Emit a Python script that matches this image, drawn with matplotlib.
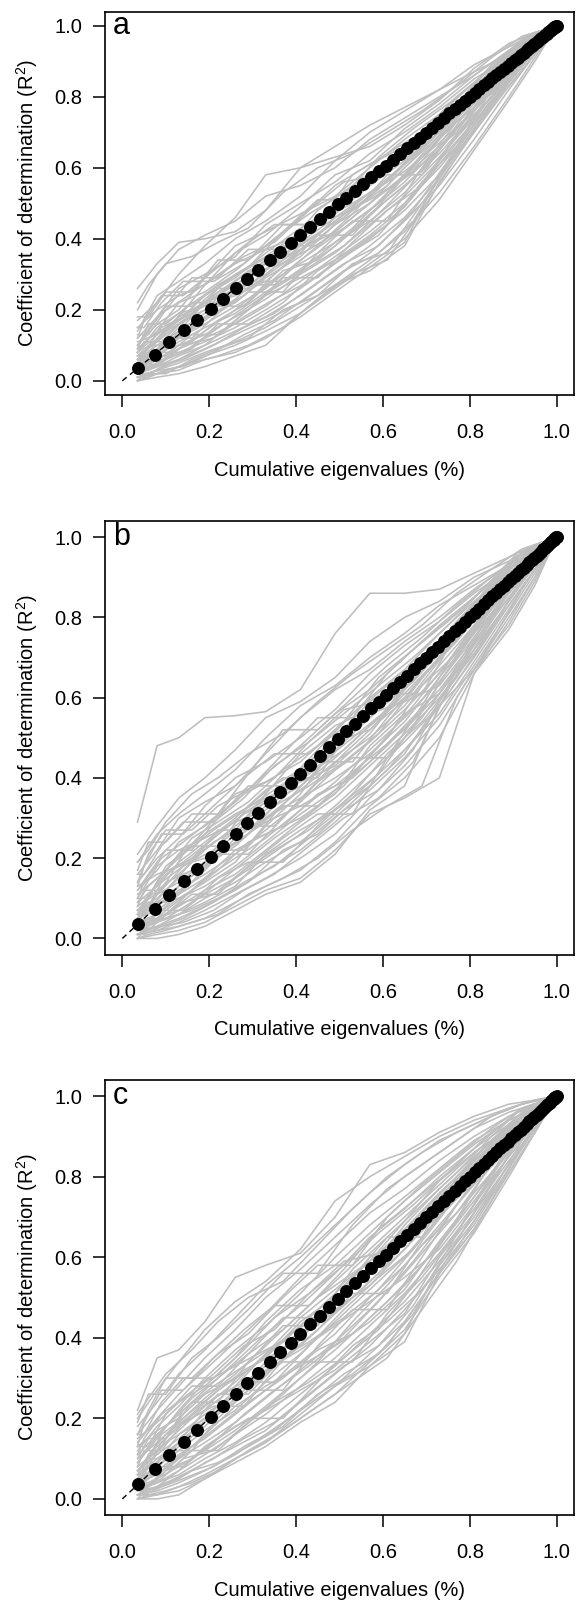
import matplotlib
matplotlib.use("Agg")
import matplotlib.pyplot as plt

plt.rcParams['font.family'] = ['Liberation Sans', 'DejaVu Sans']
plt.rcParams['mathtext.fontset'] = 'custom'
plt.rcParams['mathtext.rm'] = 'Liberation Sans'
plt.rcParams['mathtext.it'] = 'Liberation Sans'

# ---------------- data ----------------
panel_labels = ["a", "b", "c"]
x_label = "Cumulative eigenvalues (%)"
y_label = "Coefficient of determination (R$^{2}$)"
tick_values = [0.0, 0.2, 0.4, 0.6, 0.8, 1.0]
tick_labels = ["0.0", "0.2", "0.4", "0.6", "0.8", "1.0"]

# cumulative eigenvalues (black points; observed R2 equals cumulative eigenvalue)
cum_eig = [0.037, 0.074, 0.108, 0.142, 0.172, 0.203, 0.231, 0.261, 0.288, 0.313,
           0.339, 0.364, 0.388, 0.410, 0.433, 0.455, 0.476, 0.497, 0.516, 0.535,
           0.554, 0.573, 0.590, 0.606, 0.623, 0.640, 0.655, 0.671, 0.685, 0.699,
           0.713, 0.727, 0.740, 0.753, 0.765, 0.777, 0.789, 0.800, 0.811, 0.822,
           0.832, 0.842, 0.852, 0.861, 0.870, 0.879, 0.887, 0.895, 0.903, 0.910,
           0.917, 0.924, 0.931, 0.937, 0.943, 0.949, 0.954, 0.959, 0.964, 0.969,
           0.973, 0.977, 0.981, 0.984, 0.987, 0.990, 0.993, 0.995, 0.997, 0.999,
           1.000]
obs_r2 = list(cum_eig)

# 1:1 reference line
ref_line = [0.0, 1.0]

# x positions at which the grey (permuted) curves were read
knots = [0.035, 0.08, 0.13, 0.19, 0.26, 0.33, 0.41, 0.49, 0.57, 0.65, 0.73, 0.81, 0.89, 0.95, 1.0]
knots2 = [0.035, 0.06, 0.10, 0.16, 0.22, 0.29, 0.37, 0.45, 0.53, 0.61, 0.69, 0.77, 0.85, 0.92, 1.0]
knots3 = [0.035, 0.05, 0.09, 0.14, 0.21, 0.28, 0.35, 0.43, 0.51, 0.59, 0.67, 0.75, 0.83, 0.91, 1.0]

curves_a = [
    [0.26, 0.33, 0.39, 0.40, 0.42, 0.48, 0.60, 0.66, 0.72, 0.77, 0.82, 0.89, 0.94, 0.98, 1],
    [0.20, 0.30, 0.37, 0.41, 0.45, 0.52, 0.55, 0.60, 0.68, 0.74, 0.80, 0.86, 0.93, 0.97, 1],
    [0.17, 0.22, 0.30, 0.38, 0.46, 0.58, 0.60, 0.63, 0.66, 0.72, 0.79, 0.88, 0.95, 0.98, 1],
    [0.14, 0.24, 0.28, 0.33, 0.40, 0.45, 0.52, 0.62, 0.70, 0.76, 0.82, 0.87, 0.92, 0.97, 1],
    [0.12, 0.18, 0.26, 0.30, 0.35, 0.44, 0.50, 0.56, 0.64, 0.70, 0.77, 0.85, 0.91, 0.96, 1],
    [0.10, 0.16, 0.20, 0.29, 0.38, 0.42, 0.47, 0.52, 0.60, 0.68, 0.75, 0.84, 0.92, 0.97, 1],
    [0.09, 0.14, 0.22, 0.25, 0.31, 0.38, 0.46, 0.55, 0.61, 0.66, 0.74, 0.82, 0.90, 0.96, 1],
    [0.08, 0.13, 0.17, 0.24, 0.29, 0.36, 0.43, 0.49, 0.57, 0.65, 0.72, 0.80, 0.89, 0.95, 1],
    [0.07, 0.11, 0.16, 0.20, 0.28, 0.34, 0.40, 0.47, 0.55, 0.62, 0.73, 0.81, 0.88, 0.95, 1],
    [0.06, 0.10, 0.14, 0.19, 0.25, 0.30, 0.38, 0.45, 0.52, 0.61, 0.70, 0.79, 0.87, 0.94, 1],
    [0.05, 0.09, 0.13, 0.18, 0.22, 0.29, 0.35, 0.44, 0.50, 0.58, 0.68, 0.78, 0.88, 0.95, 1],
    [0.05, 0.08, 0.12, 0.16, 0.21, 0.26, 0.34, 0.41, 0.48, 0.56, 0.66, 0.76, 0.86, 0.94, 1],
    [0.04, 0.07, 0.11, 0.15, 0.19, 0.25, 0.31, 0.38, 0.47, 0.55, 0.64, 0.75, 0.85, 0.93, 1],
    [0.04, 0.06, 0.10, 0.13, 0.18, 0.23, 0.30, 0.36, 0.44, 0.52, 0.62, 0.73, 0.84, 0.93, 1],
    [0.03, 0.06, 0.09, 0.12, 0.16, 0.21, 0.28, 0.35, 0.42, 0.50, 0.60, 0.72, 0.85, 0.94, 1],
    [0.03, 0.05, 0.08, 0.11, 0.15, 0.20, 0.26, 0.33, 0.40, 0.48, 0.58, 0.70, 0.83, 0.92, 1],
    [0.02, 0.04, 0.07, 0.10, 0.14, 0.18, 0.24, 0.31, 0.38, 0.46, 0.57, 0.71, 0.84, 0.93, 1],
    [0.02, 0.04, 0.06, 0.09, 0.13, 0.17, 0.22, 0.29, 0.36, 0.45, 0.55, 0.68, 0.82, 0.92, 1],
    [0.01, 0.03, 0.05, 0.08, 0.11, 0.15, 0.21, 0.27, 0.34, 0.42, 0.53, 0.66, 0.80, 0.91, 1],
    [0.01, 0.02, 0.04, 0.07, 0.10, 0.14, 0.19, 0.26, 0.33, 0.40, 0.51, 0.65, 0.79, 0.90, 1],
    [0.00, 0.02, 0.03, 0.06, 0.08, 0.12, 0.18, 0.25, 0.32, 0.39, 0.58, 0.72, 0.85, 0.94, 1],
    [0.00, 0.01, 0.02, 0.04, 0.07, 0.10, 0.19, 0.27, 0.31, 0.38, 0.56, 0.70, 0.84, 0.93, 1],
    [0.11, 0.13, 0.18, 0.27, 0.33, 0.37, 0.41, 0.50, 0.58, 0.63, 0.71, 0.79, 0.87, 0.95, 1],
    [0.15, 0.20, 0.24, 0.27, 0.36, 0.41, 0.49, 0.58, 0.62, 0.71, 0.78, 0.86, 0.93, 0.97, 1],
    [0.06, 0.12, 0.18, 0.22, 0.27, 0.33, 0.37, 0.42, 0.50, 0.60, 0.69, 0.77, 0.86, 0.94, 1],
    [0.02, 0.05, 0.09, 0.14, 0.20, 0.27, 0.33, 0.39, 0.45, 0.53, 0.63, 0.74, 0.86, 0.94, 1],
    [0.08, 0.15, 0.19, 0.21, 0.24, 0.28, 0.36, 0.46, 0.53, 0.59, 0.67, 0.76, 0.87, 0.95, 1],
    [0.03, 0.07, 0.12, 0.17, 0.23, 0.31, 0.39, 0.46, 0.51, 0.57, 0.65, 0.77, 0.88, 0.95, 1],
    [0.01, 0.03, 0.06, 0.10, 0.17, 0.24, 0.29, 0.34, 0.41, 0.49, 0.61, 0.73, 0.83, 0.92, 1],
    [0.04, 0.09, 0.15, 0.23, 0.30, 0.35, 0.42, 0.48, 0.56, 0.64, 0.71, 0.80, 0.89, 0.96, 1],
]
curves2_a = [
    [0.18, 0.18, 0.25, 0.25, 0.34, 0.34, 0.44, 0.44, 0.58, 0.64, 0.70, 0.80, 0.88, 0.95, 1],
    [0.09, 0.16, 0.16, 0.22, 0.22, 0.30, 0.38, 0.38, 0.47, 0.58, 0.58, 0.72, 0.85, 0.95, 1],
    [0.05, 0.05, 0.12, 0.12, 0.19, 0.25, 0.25, 0.36, 0.45, 0.45, 0.60, 0.73, 0.81, 0.93, 1],
    [0.02, 0.07, 0.07, 0.13, 0.13, 0.20, 0.29, 0.29, 0.39, 0.48, 0.55, 0.69, 0.80, 0.92, 1],
    [0.13, 0.13, 0.20, 0.29, 0.29, 0.37, 0.37, 0.48, 0.55, 0.62, 0.69, 0.77, 0.87, 0.96, 1],
    [0.07, 0.07, 0.10, 0.18, 0.26, 0.26, 0.33, 0.41, 0.41, 0.52, 0.63, 0.74, 0.83, 0.94, 1],
    [0.03, 0.03, 0.06, 0.09, 0.16, 0.16, 0.22, 0.31, 0.37, 0.44, 0.56, 0.66, 0.82, 0.93, 1],
    [0.01, 0.02, 0.02, 0.06, 0.09, 0.12, 0.20, 0.24, 0.33, 0.36, 0.50, 0.64, 0.78, 0.90, 1],
    [0.10, 0.14, 0.21, 0.21, 0.27, 0.32, 0.42, 0.51, 0.51, 0.60, 0.67, 0.76, 0.86, 0.95, 1],
    [0.04, 0.10, 0.10, 0.15, 0.21, 0.28, 0.28, 0.35, 0.43, 0.53, 0.62, 0.70, 0.84, 0.93, 1],
    [0.22, 0.27, 0.33, 0.35, 0.39, 0.43, 0.53, 0.60, 0.64, 0.70, 0.76, 0.83, 0.91, 0.97, 1],
    [0.06, 0.09, 0.14, 0.20, 0.24, 0.31, 0.35, 0.45, 0.50, 0.56, 0.66, 0.78, 0.89, 0.96, 1],
    [0.02, 0.04, 0.09, 0.11, 0.17, 0.22, 0.31, 0.34, 0.42, 0.51, 0.59, 0.71, 0.83, 0.93, 1],
    [0.00, 0.01, 0.03, 0.05, 0.07, 0.10, 0.15, 0.23, 0.30, 0.34, 0.48, 0.63, 0.78, 0.90, 1],
    [0.08, 0.12, 0.15, 0.19, 0.25, 0.29, 0.34, 0.40, 0.48, 0.55, 0.65, 0.75, 0.85, 0.94, 1],
]
curves3_a = [
    [0.15, 0.15, 0.22, 0.28, 0.28, 0.33, 0.40, 0.47, 0.53, 0.60, 0.68, 0.76, 0.85, 0.95, 1],
    [0.08, 0.11, 0.11, 0.17, 0.23, 0.27, 0.27, 0.36, 0.44, 0.52, 0.59, 0.71, 0.82, 0.93, 1],
    [0.04, 0.04, 0.08, 0.08, 0.14, 0.20, 0.26, 0.32, 0.38, 0.47, 0.57, 0.68, 0.80, 0.92, 1],
    [0.12, 0.17, 0.24, 0.24, 0.31, 0.38, 0.44, 0.44, 0.52, 0.63, 0.71, 0.78, 0.86, 0.95, 1],
    [0.06, 0.06, 0.13, 0.17, 0.21, 0.21, 0.30, 0.39, 0.47, 0.55, 0.63, 0.73, 0.84, 0.94, 1],
    [0.02, 0.03, 0.05, 0.10, 0.12, 0.18, 0.23, 0.28, 0.35, 0.41, 0.52, 0.66, 0.79, 0.91, 1],
    [0.10, 0.13, 0.19, 0.23, 0.29, 0.35, 0.39, 0.48, 0.56, 0.58, 0.65, 0.74, 0.84, 0.94, 1],
    [0.03, 0.07, 0.09, 0.14, 0.19, 0.24, 0.32, 0.37, 0.43, 0.50, 0.61, 0.72, 0.83, 0.93, 1],
    [0.01, 0.01, 0.04, 0.06, 0.10, 0.15, 0.19, 0.26, 0.33, 0.38, 0.48, 0.62, 0.77, 0.90, 1],
    [0.07, 0.09, 0.12, 0.20, 0.26, 0.31, 0.36, 0.42, 0.49, 0.57, 0.66, 0.75, 0.85, 0.94, 1],
    [0.05, 0.08, 0.15, 0.18, 0.24, 0.30, 0.34, 0.40, 0.46, 0.54, 0.64, 0.74, 0.86, 0.95, 1],
    [0.00, 0.02, 0.03, 0.04, 0.08, 0.13, 0.17, 0.24, 0.31, 0.36, 0.45, 0.61, 0.76, 0.89, 1],
]

curves_b = [
    [0.29, 0.48, 0.50, 0.55, 0.555, 0.565, 0.62, 0.76, 0.86, 0.86, 0.87, 0.91, 0.95, 0.98, 1],
    [0.21, 0.28, 0.35, 0.40, 0.47, 0.55, 0.59, 0.65, 0.74, 0.80, 0.84, 0.90, 0.94, 0.98, 1],
    [0.19, 0.26, 0.31, 0.36, 0.42, 0.50, 0.58, 0.63, 0.70, 0.76, 0.83, 0.88, 0.93, 0.97, 1],
    [0.16, 0.22, 0.30, 0.34, 0.38, 0.46, 0.55, 0.62, 0.67, 0.74, 0.80, 0.87, 0.93, 0.97, 1],
    [0.14, 0.20, 0.25, 0.33, 0.40, 0.44, 0.50, 0.57, 0.66, 0.73, 0.79, 0.86, 0.92, 0.97, 1],
    [0.12, 0.17, 0.24, 0.28, 0.34, 0.41, 0.48, 0.56, 0.62, 0.70, 0.78, 0.85, 0.92, 0.96, 1],
    [0.11, 0.15, 0.20, 0.27, 0.36, 0.39, 0.44, 0.52, 0.60, 0.67, 0.76, 0.84, 0.91, 0.96, 1],
    [0.09, 0.13, 0.19, 0.24, 0.30, 0.37, 0.42, 0.50, 0.59, 0.65, 0.74, 0.82, 0.90, 0.96, 1],
    [0.08, 0.12, 0.16, 0.22, 0.28, 0.34, 0.41, 0.47, 0.55, 0.63, 0.72, 0.81, 0.89, 0.95, 1],
    [0.07, 0.10, 0.15, 0.19, 0.26, 0.33, 0.38, 0.45, 0.53, 0.60, 0.70, 0.79, 0.88, 0.95, 1],
    [0.06, 0.09, 0.13, 0.18, 0.23, 0.30, 0.37, 0.44, 0.50, 0.58, 0.68, 0.78, 0.87, 0.94, 1],
    [0.05, 0.08, 0.12, 0.16, 0.21, 0.27, 0.34, 0.42, 0.49, 0.57, 0.66, 0.77, 0.87, 0.94, 1],
    [0.05, 0.07, 0.11, 0.15, 0.20, 0.25, 0.32, 0.39, 0.47, 0.55, 0.64, 0.75, 0.86, 0.93, 1],
    [0.04, 0.06, 0.10, 0.13, 0.18, 0.24, 0.31, 0.37, 0.44, 0.53, 0.62, 0.73, 0.85, 0.93, 1],
    [0.03, 0.05, 0.08, 0.12, 0.16, 0.22, 0.29, 0.35, 0.43, 0.51, 0.60, 0.71, 0.84, 0.93, 1],
    [0.03, 0.05, 0.07, 0.11, 0.15, 0.20, 0.26, 0.33, 0.41, 0.49, 0.58, 0.70, 0.83, 0.92, 1],
    [0.02, 0.04, 0.06, 0.10, 0.14, 0.19, 0.24, 0.31, 0.39, 0.47, 0.56, 0.69, 0.82, 0.92, 1],
    [0.02, 0.03, 0.05, 0.08, 0.12, 0.17, 0.22, 0.29, 0.37, 0.45, 0.55, 0.68, 0.81, 0.91, 1],
    [0.01, 0.02, 0.04, 0.07, 0.11, 0.15, 0.20, 0.26, 0.35, 0.43, 0.53, 0.67, 0.80, 0.90, 1],
    [0.01, 0.02, 0.03, 0.05, 0.09, 0.13, 0.17, 0.24, 0.33, 0.40, 0.50, 0.66, 0.79, 0.90, 1],
    [0.00, 0.01, 0.02, 0.04, 0.08, 0.12, 0.15, 0.22, 0.31, 0.35, 0.40, 0.66, 0.77, 0.88, 1],
    [0.00, 0.00, 0.01, 0.03, 0.07, 0.11, 0.14, 0.21, 0.32, 0.38, 0.58, 0.67, 0.78, 0.89, 1],
    [0.10, 0.18, 0.22, 0.25, 0.29, 0.32, 0.40, 0.49, 0.52, 0.61, 0.70, 0.80, 0.88, 0.95, 1],
    [0.13, 0.16, 0.18, 0.20, 0.27, 0.36, 0.46, 0.53, 0.57, 0.62, 0.73, 0.83, 0.91, 0.96, 1],
    [0.06, 0.14, 0.21, 0.26, 0.31, 0.35, 0.39, 0.43, 0.51, 0.62, 0.71, 0.80, 0.89, 0.95, 1],
    [0.02, 0.06, 0.11, 0.17, 0.25, 0.30, 0.35, 0.40, 0.46, 0.54, 0.65, 0.76, 0.86, 0.94, 1],
    [0.07, 0.09, 0.10, 0.14, 0.19, 0.28, 0.36, 0.48, 0.56, 0.59, 0.63, 0.74, 0.85, 0.93, 1],
    [0.03, 0.04, 0.09, 0.15, 0.22, 0.26, 0.30, 0.36, 0.48, 0.56, 0.61, 0.72, 0.84, 0.93, 1],
    [0.01, 0.03, 0.06, 0.09, 0.13, 0.21, 0.27, 0.32, 0.38, 0.46, 0.59, 0.72, 0.83, 0.92, 1],
    [0.04, 0.11, 0.14, 0.19, 0.24, 0.29, 0.33, 0.38, 0.45, 0.52, 0.61, 0.75, 0.87, 0.95, 1],
]
curves2_b = [
    [0.17, 0.24, 0.24, 0.31, 0.31, 0.41, 0.52, 0.52, 0.60, 0.68, 0.75, 0.83, 0.90, 0.96, 1],
    [0.10, 0.10, 0.18, 0.23, 0.23, 0.33, 0.40, 0.40, 0.53, 0.61, 0.61, 0.76, 0.87, 0.95, 1],
    [0.05, 0.09, 0.09, 0.14, 0.21, 0.21, 0.30, 0.39, 0.45, 0.45, 0.58, 0.72, 0.83, 0.93, 1],
    [0.02, 0.02, 0.06, 0.11, 0.11, 0.18, 0.25, 0.31, 0.31, 0.45, 0.55, 0.67, 0.80, 0.92, 1],
    [0.12, 0.16, 0.22, 0.22, 0.30, 0.38, 0.38, 0.47, 0.56, 0.63, 0.70, 0.78, 0.88, 0.96, 1],
    [0.07, 0.07, 0.12, 0.19, 0.27, 0.27, 0.35, 0.44, 0.44, 0.55, 0.65, 0.74, 0.85, 0.94, 1],
    [0.03, 0.05, 0.05, 0.09, 0.15, 0.19, 0.19, 0.28, 0.36, 0.46, 0.54, 0.65, 0.79, 0.92, 1],
    [0.00, 0.01, 0.02, 0.04, 0.06, 0.11, 0.15, 0.20, 0.27, 0.33, 0.38, 0.60, 0.74, 0.87, 1],
    [0.14, 0.21, 0.27, 0.27, 0.33, 0.37, 0.46, 0.55, 0.55, 0.66, 0.74, 0.81, 0.89, 0.96, 1],
    [0.04, 0.08, 0.14, 0.17, 0.21, 0.26, 0.33, 0.33, 0.41, 0.50, 0.63, 0.71, 0.82, 0.93, 1],
    [0.19, 0.22, 0.29, 0.36, 0.40, 0.46, 0.51, 0.59, 0.66, 0.72, 0.78, 0.86, 0.92, 0.97, 1],
    [0.06, 0.11, 0.16, 0.20, 0.26, 0.32, 0.37, 0.43, 0.50, 0.57, 0.67, 0.77, 0.88, 0.95, 1],
    [0.01, 0.03, 0.07, 0.12, 0.17, 0.24, 0.28, 0.36, 0.40, 0.48, 0.57, 0.70, 0.82, 0.92, 1],
    [0.02, 0.04, 0.05, 0.07, 0.10, 0.14, 0.22, 0.26, 0.34, 0.42, 0.52, 0.64, 0.77, 0.90, 1],
    [0.09, 0.13, 0.17, 0.25, 0.29, 0.34, 0.42, 0.48, 0.54, 0.60, 0.69, 0.79, 0.88, 0.95, 1],
]
curves3_b = [
    [0.16, 0.16, 0.23, 0.29, 0.29, 0.35, 0.43, 0.49, 0.56, 0.63, 0.70, 0.78, 0.87, 0.96, 1],
    [0.08, 0.12, 0.12, 0.18, 0.24, 0.28, 0.28, 0.37, 0.46, 0.54, 0.61, 0.72, 0.83, 0.93, 1],
    [0.04, 0.04, 0.07, 0.07, 0.13, 0.19, 0.25, 0.31, 0.38, 0.48, 0.58, 0.69, 0.81, 0.92, 1],
    [0.13, 0.18, 0.26, 0.26, 0.33, 0.40, 0.46, 0.46, 0.54, 0.65, 0.72, 0.79, 0.87, 0.95, 1],
    [0.06, 0.06, 0.14, 0.18, 0.22, 0.22, 0.31, 0.40, 0.49, 0.57, 0.64, 0.74, 0.84, 0.94, 1],
    [0.02, 0.03, 0.05, 0.09, 0.11, 0.17, 0.22, 0.27, 0.34, 0.41, 0.53, 0.67, 0.80, 0.91, 1],
    [0.10, 0.14, 0.20, 0.24, 0.30, 0.36, 0.40, 0.49, 0.57, 0.59, 0.66, 0.75, 0.85, 0.94, 1],
    [0.03, 0.07, 0.09, 0.14, 0.20, 0.25, 0.33, 0.38, 0.44, 0.51, 0.62, 0.73, 0.84, 0.93, 1],
    [0.01, 0.01, 0.03, 0.05, 0.09, 0.14, 0.18, 0.25, 0.32, 0.37, 0.47, 0.63, 0.78, 0.90, 1],
    [0.07, 0.09, 0.12, 0.21, 0.27, 0.32, 0.37, 0.43, 0.50, 0.58, 0.67, 0.76, 0.86, 0.94, 1],
    [0.05, 0.08, 0.16, 0.19, 0.25, 0.31, 0.35, 0.41, 0.47, 0.55, 0.65, 0.75, 0.86, 0.95, 1],
    [0.00, 0.02, 0.03, 0.04, 0.07, 0.12, 0.16, 0.23, 0.30, 0.35, 0.44, 0.62, 0.77, 0.89, 1],
]

curves_c = [
    [0.22, 0.35, 0.37, 0.44, 0.55, 0.58, 0.61, 0.70, 0.83, 0.86, 0.91, 0.95, 0.98, 0.99, 1],
    [0.20, 0.27, 0.34, 0.42, 0.49, 0.54, 0.62, 0.74, 0.80, 0.85, 0.90, 0.94, 0.97, 0.99, 1],
    [0.18, 0.24, 0.31, 0.37, 0.45, 0.53, 0.60, 0.68, 0.76, 0.83, 0.89, 0.93, 0.97, 0.99, 1],
    [0.16, 0.22, 0.28, 0.35, 0.42, 0.50, 0.57, 0.65, 0.73, 0.80, 0.86, 0.92, 0.96, 0.98, 1],
    [0.14, 0.20, 0.26, 0.32, 0.39, 0.46, 0.55, 0.63, 0.71, 0.77, 0.84, 0.90, 0.95, 0.98, 1],
    [0.12, 0.18, 0.23, 0.30, 0.37, 0.43, 0.51, 0.60, 0.68, 0.75, 0.82, 0.89, 0.94, 0.97, 1],
    [0.11, 0.16, 0.21, 0.27, 0.34, 0.41, 0.48, 0.56, 0.65, 0.72, 0.80, 0.87, 0.93, 0.97, 1],
    [0.10, 0.14, 0.19, 0.25, 0.31, 0.38, 0.46, 0.54, 0.62, 0.70, 0.78, 0.86, 0.92, 0.96, 1],
    [0.08, 0.12, 0.17, 0.23, 0.29, 0.36, 0.43, 0.51, 0.59, 0.67, 0.76, 0.84, 0.91, 0.96, 1],
    [0.07, 0.11, 0.15, 0.20, 0.27, 0.33, 0.41, 0.48, 0.57, 0.65, 0.74, 0.83, 0.90, 0.95, 1],
    [0.06, 0.10, 0.14, 0.19, 0.24, 0.31, 0.38, 0.46, 0.54, 0.62, 0.72, 0.81, 0.89, 0.95, 1],
    [0.05, 0.08, 0.12, 0.17, 0.22, 0.29, 0.36, 0.44, 0.52, 0.60, 0.70, 0.80, 0.88, 0.94, 1],
    [0.05, 0.07, 0.11, 0.15, 0.21, 0.27, 0.34, 0.41, 0.50, 0.58, 0.68, 0.78, 0.87, 0.94, 1],
    [0.04, 0.06, 0.10, 0.14, 0.19, 0.25, 0.32, 0.39, 0.47, 0.56, 0.66, 0.76, 0.86, 0.93, 1],
    [0.03, 0.05, 0.08, 0.12, 0.17, 0.23, 0.30, 0.37, 0.45, 0.53, 0.63, 0.74, 0.85, 0.93, 1],
    [0.03, 0.04, 0.07, 0.11, 0.16, 0.21, 0.28, 0.35, 0.43, 0.51, 0.61, 0.72, 0.84, 0.92, 1],
    [0.02, 0.04, 0.06, 0.10, 0.14, 0.19, 0.26, 0.33, 0.41, 0.49, 0.59, 0.70, 0.83, 0.92, 1],
    [0.02, 0.03, 0.05, 0.09, 0.13, 0.17, 0.24, 0.31, 0.38, 0.47, 0.57, 0.68, 0.82, 0.92, 1],
    [0.01, 0.02, 0.04, 0.07, 0.11, 0.16, 0.22, 0.28, 0.36, 0.44, 0.56, 0.67, 0.81, 0.91, 1],
    [0.01, 0.01, 0.03, 0.06, 0.10, 0.14, 0.20, 0.26, 0.34, 0.42, 0.55, 0.66, 0.80, 0.91, 1],
    [0.00, 0.01, 0.02, 0.05, 0.09, 0.13, 0.19, 0.24, 0.33, 0.39, 0.56, 0.67, 0.81, 0.91, 1],
    [0.00, 0.00, 0.01, 0.05, 0.10, 0.14, 0.21, 0.28, 0.33, 0.41, 0.58, 0.69, 0.82, 0.92, 1],
    [0.13, 0.17, 0.20, 0.26, 0.30, 0.35, 0.44, 0.50, 0.57, 0.68, 0.77, 0.85, 0.92, 0.96, 1],
    [0.09, 0.15, 0.22, 0.29, 0.33, 0.37, 0.41, 0.47, 0.53, 0.62, 0.71, 0.82, 0.90, 0.96, 1],
    [0.06, 0.09, 0.16, 0.21, 0.26, 0.34, 0.40, 0.49, 0.60, 0.64, 0.70, 0.79, 0.88, 0.95, 1],
    [0.02, 0.05, 0.10, 0.16, 0.23, 0.28, 0.33, 0.38, 0.44, 0.52, 0.64, 0.75, 0.86, 0.94, 1],
    [0.15, 0.19, 0.24, 0.28, 0.35, 0.44, 0.52, 0.58, 0.66, 0.74, 0.81, 0.88, 0.94, 0.97, 1],
    [0.04, 0.08, 0.13, 0.18, 0.25, 0.32, 0.37, 0.43, 0.49, 0.55, 0.62, 0.73, 0.85, 0.93, 1],
    [0.01, 0.03, 0.07, 0.13, 0.18, 0.22, 0.27, 0.32, 0.39, 0.46, 0.60, 0.71, 0.83, 0.92, 1],
    [0.07, 0.13, 0.18, 0.22, 0.28, 0.36, 0.45, 0.52, 0.59, 0.69, 0.79, 0.86, 0.92, 0.96, 1],
]
curves2_c = [
    [0.19, 0.26, 0.26, 0.35, 0.40, 0.47, 0.56, 0.56, 0.68, 0.77, 0.83, 0.89, 0.95, 0.98, 1],
    [0.10, 0.15, 0.15, 0.24, 0.24, 0.34, 0.43, 0.43, 0.55, 0.65, 0.65, 0.80, 0.89, 0.96, 1],
    [0.05, 0.05, 0.12, 0.12, 0.20, 0.27, 0.27, 0.38, 0.47, 0.47, 0.60, 0.73, 0.84, 0.94, 1],
    [0.02, 0.06, 0.06, 0.12, 0.12, 0.19, 0.26, 0.34, 0.34, 0.46, 0.55, 0.66, 0.80, 0.92, 1],
    [0.13, 0.13, 0.21, 0.28, 0.28, 0.36, 0.45, 0.45, 0.57, 0.65, 0.73, 0.81, 0.90, 0.97, 1],
    [0.07, 0.10, 0.10, 0.18, 0.26, 0.26, 0.35, 0.42, 0.51, 0.51, 0.64, 0.75, 0.86, 0.95, 1],
    [0.03, 0.03, 0.07, 0.10, 0.15, 0.20, 0.20, 0.29, 0.38, 0.44, 0.52, 0.64, 0.78, 0.91, 1],
    [0.00, 0.01, 0.02, 0.04, 0.07, 0.12, 0.17, 0.23, 0.29, 0.35, 0.47, 0.59, 0.74, 0.88, 1],
    [0.16, 0.22, 0.30, 0.30, 0.36, 0.41, 0.50, 0.58, 0.58, 0.70, 0.78, 0.85, 0.92, 0.97, 1],
    [0.04, 0.09, 0.14, 0.18, 0.22, 0.29, 0.34, 0.34, 0.44, 0.53, 0.63, 0.71, 0.83, 0.93, 1],
    [0.21, 0.25, 0.31, 0.37, 0.44, 0.50, 0.54, 0.63, 0.72, 0.80, 0.86, 0.91, 0.95, 0.98, 1],
    [0.06, 0.11, 0.16, 0.21, 0.27, 0.32, 0.39, 0.47, 0.53, 0.59, 0.68, 0.78, 0.88, 0.95, 1],
    [0.01, 0.03, 0.08, 0.13, 0.18, 0.24, 0.30, 0.37, 0.41, 0.49, 0.58, 0.69, 0.81, 0.92, 1],
    [0.02, 0.02, 0.04, 0.07, 0.09, 0.13, 0.18, 0.26, 0.31, 0.38, 0.50, 0.62, 0.76, 0.89, 1],
    [0.09, 0.13, 0.18, 0.25, 0.30, 0.36, 0.42, 0.50, 0.56, 0.62, 0.71, 0.80, 0.89, 0.95, 1],
]
curves3_c = [
    [0.16, 0.16, 0.24, 0.30, 0.30, 0.37, 0.45, 0.51, 0.58, 0.66, 0.73, 0.81, 0.89, 0.96, 1],
    [0.08, 0.12, 0.12, 0.19, 0.25, 0.29, 0.29, 0.38, 0.47, 0.55, 0.62, 0.73, 0.84, 0.94, 1],
    [0.04, 0.04, 0.08, 0.08, 0.14, 0.21, 0.27, 0.33, 0.40, 0.49, 0.59, 0.70, 0.82, 0.92, 1],
    [0.13, 0.19, 0.27, 0.27, 0.35, 0.42, 0.48, 0.48, 0.57, 0.67, 0.74, 0.81, 0.89, 0.96, 1],
    [0.06, 0.06, 0.14, 0.19, 0.23, 0.23, 0.32, 0.42, 0.50, 0.58, 0.65, 0.75, 0.85, 0.94, 1],
    [0.02, 0.03, 0.05, 0.10, 0.12, 0.18, 0.24, 0.29, 0.35, 0.42, 0.53, 0.66, 0.80, 0.91, 1],
    [0.11, 0.15, 0.21, 0.25, 0.31, 0.38, 0.42, 0.51, 0.59, 0.61, 0.68, 0.77, 0.86, 0.95, 1],
    [0.03, 0.07, 0.10, 0.15, 0.21, 0.26, 0.34, 0.39, 0.45, 0.52, 0.62, 0.73, 0.84, 0.93, 1],
    [0.01, 0.01, 0.03, 0.06, 0.10, 0.15, 0.19, 0.26, 0.33, 0.38, 0.48, 0.62, 0.77, 0.90, 1],
    [0.07, 0.09, 0.13, 0.22, 0.28, 0.33, 0.38, 0.44, 0.51, 0.59, 0.68, 0.77, 0.86, 0.94, 1],
    [0.05, 0.08, 0.16, 0.20, 0.26, 0.32, 0.36, 0.42, 0.48, 0.56, 0.66, 0.76, 0.87, 0.95, 1],
    [0.00, 0.02, 0.03, 0.05, 0.08, 0.13, 0.17, 0.24, 0.31, 0.36, 0.46, 0.60, 0.75, 0.89, 1],
]

panel_sets = [
    [(knots, curves_a), (knots2, curves2_a), (knots3, curves3_a)],
    [(knots, curves_b), (knots2, curves2_b), (knots3, curves3_b)],
    [(knots, curves_c), (knots2, curves2_c), (knots3, curves3_c)],
]

# ---------------- layout ----------------
W, H = 576, 1605
fig = plt.figure(figsize=(W / 100, H / 100), dpi=100)

# axes boxes in pixels: (left, top, right, bottom)
boxes = [(105, 11.5, 574, 395), (105, 521, 574, 954.5), (105, 1080, 574, 1515)]

GREY = "#BEBEBE"
FS = 14.5

for (l, t, r, b), sets, lab in zip(boxes, panel_sets, panel_labels):
    ax = fig.add_axes([l / W, (H - b) / H, (r - l) / W, (b - t) / H])
    for kx, cset in sets:
        for cv in cset:
            ax.plot(kx, cv, color=GREY, lw=1.15, zorder=1)
    ax.plot(ref_line, ref_line, color="black", lw=1.0, ls=(0, (4, 3)), zorder=2)
    ax.plot(cum_eig, obs_r2, "o", color="black", ms=8.3, mec="black", zorder=3)

    ax.set_xlim(-0.04, 1.04)
    ax.set_ylim(-0.04, 1.04)
    ax.set_xticks(tick_values)
    ax.set_xticklabels(tick_labels)
    ax.set_yticks(tick_values)
    ax.set_yticklabels(tick_labels)
    ax.tick_params(axis="both", direction="out", length=8.4, width=1.1,
                   labelsize=FS, colors="black")
    ax.tick_params(axis="x", pad=12)
    ax.tick_params(axis="y", pad=8)
    for s in ax.spines.values():
        s.set_linewidth(1.2)

    ax.text(-0.022, 1.0, lab, fontsize=22, ha="left", va="center")

    # axis titles
    ax.text(0.5, -75 / (b - t), x_label, transform=ax.transAxes,
            ha="center", va="center", fontsize=FS)
    ax.text((27.5 - l) / (r - l), 0.5, y_label, transform=ax.transAxes,
            ha="center", va="center", rotation=90, fontsize=FS)

fig.savefig("out.png", dpi=100)
